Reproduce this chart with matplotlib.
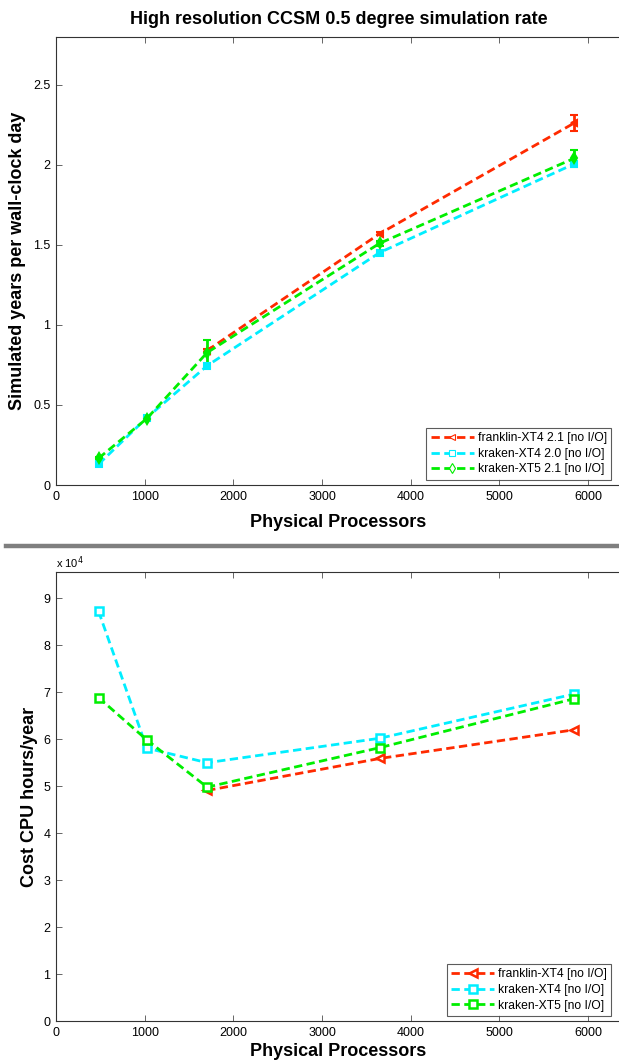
import matplotlib
import matplotlib.pyplot as plt
import numpy as np
from matplotlib.lines import Line2D
plt.switch_backend('agg')

matplotlib.rcParams['font.family'] = "sans-serif"
matplotlib.rcParams['font.sans-serif'] = ["Liberation Sans", "DejaVu Sans"]

# processors
procs_all = [480, 1024, 1704, 3650, 5840]
procs_franklin = [1704, 3650, 5840]

# simulated years per wall-clock day
rate_franklin = [0.84, 1.57, 2.26]
rate_franklin_err = [0.01, 0.01, 0.05]
rate_kraken_xt4 = [0.13, 0.42, 0.745, 1.452, 2.005]
rate_kraken_xt4_err = [0.005, 0.005, 0.01, 0.01, 0.02]
rate_kraken_xt5 = [0.167, 0.415, 0.827, 1.51, 2.04]
rate_kraken_xt5_err = [0.005, 0.005, 0.08, 0.015, 0.05]

# cost, CPU hours per year
cost_franklin = [4.91e4, 5.59e4, 6.20e4]
cost_kraken_xt4 = [8.72e4, 5.81e4, 5.50e4, 6.02e4, 6.96e4]
cost_kraken_xt5 = [6.885e4, 5.985e4, 4.98e4, 5.82e4, 6.86e4]

RED = '#ff2a00'
CYAN = '#00eeff'
GREEN = '#00ee00'
AXC = '#333333'
dash = (3, 1.6)
LBL = 13
LEGFS = 8.7

W, H = 619, 1062
fig = plt.figure(figsize=(W/100, H/100), dpi=100)

def style_axes(ax):
	for s in ax.spines.values():
		s.set_color(AXC)
		s.set_linewidth(0.8)
	ax.tick_params(direction='in', length=4, width=0.7, color='#666666',
		top=True, right=False, labelsize=9, pad=4)
	ax.set_xlim(0, 6370)
	ax.set_xticks(range(0, 7000, 1000))

ax1 = fig.add_axes([56/W, (H-485)/H, 565/W, (485-36.7)/H])
style_axes(ax1)
ax1.set_ylim(0, 2.8)
ax1.set_yticks([0, 0.5, 1, 1.5, 2, 2.5])
ax1.set_yticklabels(['0', '0.5', '1', '1.5', '2', '2.5'])

series_top = [
	(procs_franklin, rate_franklin, rate_franklin_err, RED, '<', 'franklin-XT4 2.1 [no I/O]'),
	(procs_all, rate_kraken_xt4, rate_kraken_xt4_err, CYAN, 's', 'kraken-XT4 2.0 [no I/O]'),
	(procs_all, rate_kraken_xt5, rate_kraken_xt5_err, GREEN, 'd', 'kraken-XT5 2.1 [no I/O]'),
]
handles = []
for x, y, e, c, m, lab in series_top:
	ax1.errorbar(x, y, yerr=e, color=c, ls=(0, dash), lw=2, marker=m, ms=5,
		mfc=c, mec=c, mew=1.5, elinewidth=2, capsize=3, capthick=2)
	handles.append(Line2D([], [], color=c, ls=(0, dash), lw=2, marker=m, ms=5,
		mfc='white', mec=c, mew=0.8))
leg = ax1.legend(handles, [h[5] for h in series_top], loc='lower right',
	bbox_to_anchor=(555/565, 0.012), fontsize=LEGFS, frameon=True, fancybox=False,
	edgecolor=AXC, handlelength=3.6, handletextpad=0.3, borderpad=0.35,
	labelspacing=0.3, borderaxespad=0)
leg.get_frame().set_linewidth(0.8)
ax1.set_title('High resolution CCSM 0.5 degree simulation rate', fontsize=LBL,
	fontweight='bold', pad=9)
ax1.set_xlabel('Physical Processors', fontsize=LBL, fontweight='bold', labelpad=8)
ax1.set_ylabel('Simulated years per wall-clock day', fontsize=LBL, fontweight='bold')
ax1.yaxis.set_label_coords(-0.053, 0.5)

# separator
fig.add_artist(Line2D([6/W, 1.0], [(H-545.5)/H]*2, color='#7f7f7f', lw=3.2,
	transform=fig.transFigure))

ax2 = fig.add_axes([56/W, (H-1021.3)/H, 565/W, (1021.3-572.3)/H])
style_axes(ax2)
ax2.set_ylim(0, 9.55e4)
ax2.set_yticks(np.arange(0, 10)*1e4)
ax2.set_yticklabels([str(i) for i in range(10)])

series_bot = [
	(procs_franklin, cost_franklin, RED, '<', 'franklin-XT4 [no I/O]'),
	(procs_all, cost_kraken_xt4, CYAN, 's', 'kraken-XT4 [no I/O]'),
	(procs_all, cost_kraken_xt5, GREEN, 's', 'kraken-XT5 [no I/O]'),
]
for x, y, c, m, lab in series_bot:
	ax2.plot(x, y, color=c, ls=(0, dash), lw=2, marker=m, ms=5.5,
		mfc='white', mec=c, mew=1.8, label=lab)
leg2 = ax2.legend(loc='lower right', bbox_to_anchor=(555/565, 0.012),
	fontsize=LEGFS, frameon=True, fancybox=False, edgecolor=AXC,
	handlelength=3.6, handletextpad=0.3, borderpad=0.35, labelspacing=0.3,
	borderaxespad=0)
leg2.get_frame().set_linewidth(0.8)
ax2.set_xlabel('Physical Processors', fontsize=LBL, fontweight='bold', labelpad=3)
ax2.set_ylabel('Cost CPU hours/year', fontsize=LBL, fontweight='bold')
ax2.yaxis.set_label_coords(-0.032, 0.5)
fig.text(56/W, (H-563)/H, r'x 10$^4$', fontsize=8, ha='left', va='center')

plt.savefig('out.png', dpi=100)
